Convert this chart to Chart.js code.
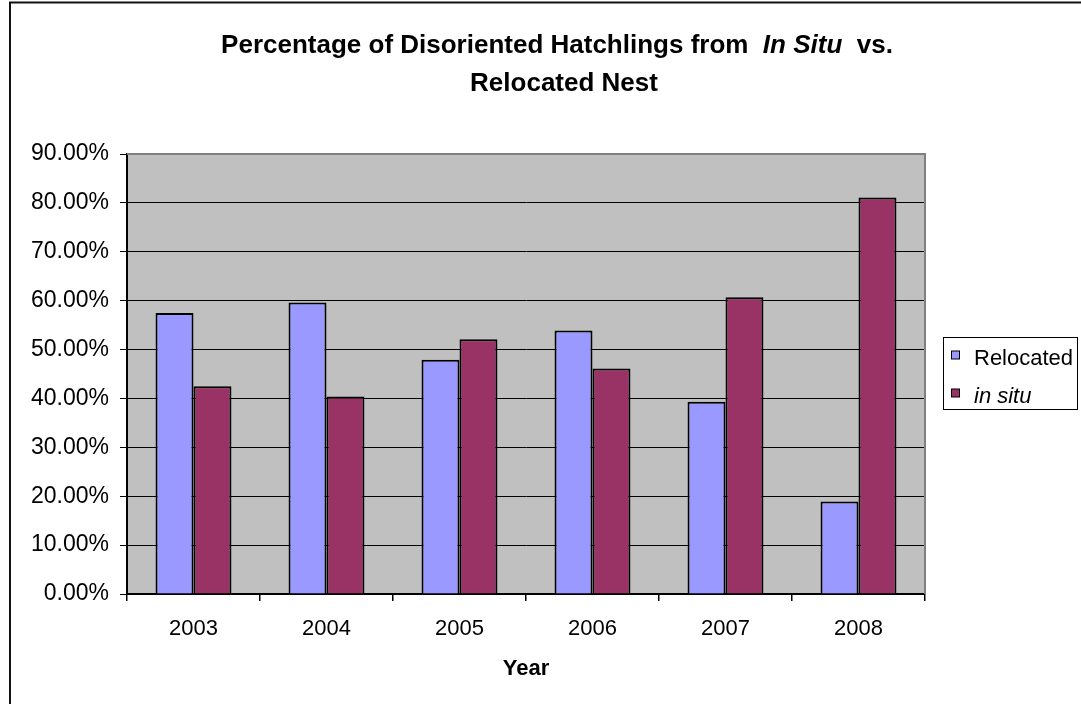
<!DOCTYPE html>
<html>
<head>
<meta charset="utf-8">
<script src="https://cdn.jsdelivr.net/npm/chart.js@4.4.0/dist/chart.umd.min.js"></script>
<style>
  html, body { margin: 0; padding: 0; background: #fff; }
  #wrap { width: 1081px; height: 704px; position: relative; }
</style>
</head>
<body>
<div id="wrap"><canvas id="c" width="1081" height="704"></canvas></div>
<script>
// Share of disoriented hatchlings per year, by nest type (fractions)
const years = ['2003', '2004', '2005', '2006', '2007', '2008'];
const relocated = [0.575, 0.596, 0.479, 0.539, 0.393, 0.189];
const inSitu = [0.425, 0.404, 0.521, 0.461, 0.607, 0.811];
const seriesNames = ['Relocated', 'in situ'];
const seriesColors = ['#9999FF', '#993366'];
const yMin = 0, yMax = 0.9, yStep = 0.1;

const FONT = '"Liberation Sans", Arial, sans-serif';

// Title with an italic fragment, outer frame, plot fill and boxed legend
const decor = {
  id: 'decor',
  beforeDraw(chart) {
    const { ctx, chartArea: a } = chart;
    ctx.save();
    ctx.fillStyle = '#fff';
    ctx.fillRect(0, 0, chart.width, chart.height);
    ctx.fillStyle = '#C0C0C0';
    ctx.fillRect(a.left, a.top, a.right - a.left, a.bottom - a.top);
    ctx.restore();
  },
  afterDraw(chart) {
    const { ctx, chartArea: a } = chart;
    ctx.save();

    // plot area top and right edges
    ctx.strokeStyle = '#808080';
    ctx.lineWidth = 2;
    ctx.beginPath();
    ctx.moveTo(a.left, a.top);
    ctx.lineTo(a.right, a.top);
    ctx.lineTo(a.right, a.bottom);
    ctx.stroke();

    // outer chart frame
    ctx.strokeStyle = '#111';
    ctx.lineWidth = 2;
    ctx.beginPath();
    ctx.moveTo(10, chart.height + 2);
    ctx.lineTo(10, 2.5);
    ctx.lineTo(chart.width + 2, 2.5);
    ctx.stroke();

    // title
    const segs = [
      { t: 'Percentage of Disoriented Hatchlings from  ', f: 'bold 26px ' + FONT },
      { t: 'In Situ', f: 'italic bold 26px ' + FONT },
      { t: '  vs.', f: 'bold 26px ' + FONT }
    ];
    let total = 0;
    segs.forEach(s => { ctx.font = s.f; s.w = ctx.measureText(s.t).width; total += s.w; });
    ctx.fillStyle = '#000';
    ctx.textBaseline = 'alphabetic';
    ctx.textAlign = 'left';
    let x = 557 - total / 2;
    segs.forEach(s => { ctx.font = s.f; ctx.fillText(s.t, x, 53); x += s.w; });
    ctx.font = 'bold 26px ' + FONT;
    ctx.textAlign = 'center';
    ctx.fillText('Relocated Nest', 564, 91);

    // legend
    const lx = a.right + 18.5, ly = 337.5;
    ctx.lineWidth = 1;
    ctx.strokeStyle = '#000';
    ctx.fillStyle = '#fff';
    ctx.fillRect(lx, ly, 134, 72);
    ctx.strokeRect(lx, ly, 134, 72);
    const rows = [
      { name: seriesNames[0], color: seriesColors[0], style: '', base: 365 },
      { name: seriesNames[1], color: seriesColors[1], style: 'italic ', base: 403 }
    ];
    ctx.textAlign = 'left';
    rows.forEach(r => {
      const sy = r.base - 14;
      ctx.fillStyle = r.color;
      ctx.fillRect(lx + 8, sy, 8, 8);
      ctx.strokeStyle = '#000';
      ctx.strokeRect(lx + 8, sy, 8, 8);
      ctx.fillStyle = '#000';
      ctx.font = r.style + '22px ' + FONT;
      ctx.fillText(r.name, lx + 30.5, r.base);
    });
    ctx.restore();
  }
};

new Chart(document.getElementById('c'), {
  type: 'bar',
  data: {
    labels: years,
    datasets: [
      { label: seriesNames[0], data: relocated, backgroundColor: seriesColors[0],
        borderColor: '#000', borderWidth: 2 },
      { label: seriesNames[1], data: inSitu, backgroundColor: seriesColors[1],
        borderColor: '#000', borderWidth: 2 }
    ]
  },
  options: {
    responsive: false,
    devicePixelRatio: 1,
    animation: false,
    layout: { padding: { top: 154, right: 156, left: 0, bottom: 0 } },
    datasets: { bar: { categoryPercentage: 0.571, barPercentage: 1.0 } },
    plugins: {
      legend: { display: false },
      title: { display: false },
      tooltip: { enabled: false }
    },
    scales: {
      x: {
        afterFit(scale) { scale.height = 110; },
        grid: { display: true, drawOnChartArea: false, drawTicks: true, tickLength: 7,
                color: '#000', lineWidth: 1.5, offset: true },
        border: { display: true, color: '#000', width: 2 },
        ticks: { color: '#000', font: { family: FONT, size: 22 }, padding: 15 },
        title: { display: true, text: 'Year', color: '#000',
                 font: { family: FONT, size: 22, weight: 'bold' },
                 padding: { top: 0, bottom: 22 } }
      },
      y: {
        min: yMin, max: yMax,
        afterFit(scale) { scale.width = 127; },
        grid: {
          color: c => (c.tick && c.tick.value >= yMax - 1e-9) ? 'rgba(0,0,0,0)' : '#000',
          tickColor: '#000',
          lineWidth: 1,
          tickLength: 7
        },
        border: { display: true, color: '#000', width: 2 },
        ticks: {
          stepSize: yStep,
          color: '#000',
          font: { family: FONT, size: 23 },
          padding: 11,
          callback: v => (v * 100).toFixed(2) + '%'
        }
      }
    }
  },
  plugins: [decor]
});
</script>
</body>
</html>
